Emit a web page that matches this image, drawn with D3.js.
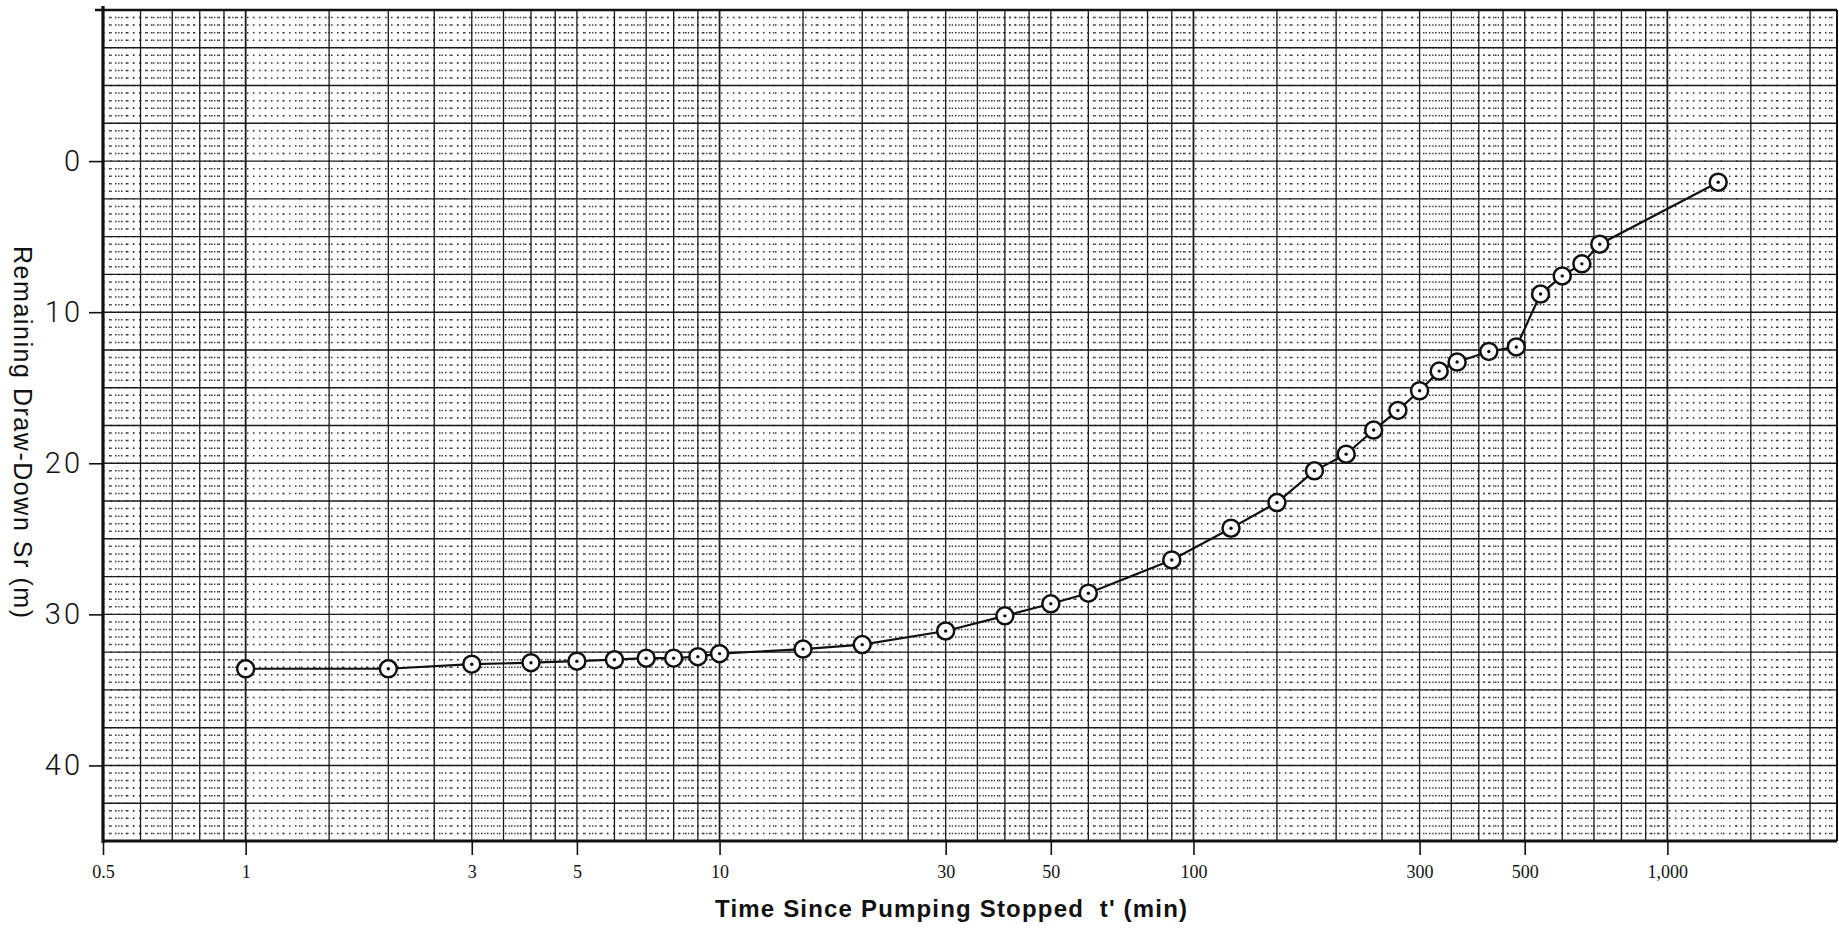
<!DOCTYPE html>
<html>
<head>
<meta charset="utf-8">
<script src="https://cdn.jsdelivr.net/npm/d3@7"></script>
<style>
  body { margin: 0; background: #fff; }
</style>
</head>
<body>
<div id="chart"></div>
<script>
// recovery test readings
let times = [1, 2, 3, 4, 5, 6, 7, 8, 9, 10, 15, 20, 30, 40, 50, 60, 90, 120, 150, 180,
  210, 240, 270, 300, 330, 360, 420, 480, 540, 600, 660, 720, 1280];
let drawDown = [33.6, 33.6, 33.3, 33.2, 33.1, 33.0, 32.9, 32.9, 32.8, 32.6, 32.3, 32.0, 31.1, 30.1, 29.3, 28.6, 26.4, 24.3, 22.6, 20.5,
  19.4, 17.8, 16.5, 15.2, 13.9, 13.3, 12.6, 12.3, 8.8, 7.6, 6.8, 5.5, 1.4];

let xTickValues = [0.5, 1, 3, 5, 10, 30, 50, 100, 300, 500, 1000];
let xTickLabels = ['0.5', '1', '3', '5', '10', '30', '50', '100', '300', '500', '1,000'];
let yTickValues = [0, 10, 20, 30, 40];

// rulings of the semi-log paper
let decades = [0.1, 1, 10, 100, 1000];
let ruledMultipliers = [1, 1.5, 2, 2.5, 3, 3.5, 4, 4.5, 5, 6, 7, 8, 9];

let width = 1839;
let height = 935;

let svg = d3.select('#chart').append('svg').attr('width', width).attr('height', height);

let x = d3.scaleLog().domain([0.5, 2280]).range([103, 1837]);
let y = d3.scaleLinear().domain([-10, 45]).range([10, 841]);

let inX = v => v >= x.domain()[0] && v <= x.domain()[1];
let rowStep = y(0.5) - y(0);

// fine dotted columns
let fineCols = [];
decades.forEach(d => {
  d3.range(1.1, 5, 0.1).forEach(m => fineCols.push(d * m));
  d3.range(5.2, 10, 0.2).forEach(m => fineCols.push(d * m));
});
fineCols = fineCols.filter(inX);

let fineRows = d3.range(-10, 45.01, 0.5).filter(v => Math.abs(v / 2.5 - Math.round(v / 2.5)) > 0.01);

let grid = svg.append('g');

grid.selectAll('.fineRow').data(fineRows).enter().append('line')
  .attr('x1', x.range()[0]).attr('x2', x.range()[1])
  .attr('y1', d => y(d)).attr('y2', d => y(d))
  .style('stroke', '#333').style('stroke-width', 1.5)
  .style('stroke-dasharray', '1.5 4.5');

grid.selectAll('.fineCol').data(fineCols).enter().append('line')
  .attr('x1', d => x(d)).attr('x2', d => x(d))
  .attr('y1', y.range()[0] - 0.75).attr('y2', y.range()[1])
  .style('stroke', '#333').style('stroke-width', 1.3)
  .style('stroke-dasharray', '1.5 ' + (rowStep - 1.5));

// solid rulings
let ruledCols = [];
decades.forEach(d => ruledMultipliers.forEach(m => ruledCols.push(d * m)));
ruledCols = ruledCols.filter(inX);

grid.selectAll('.ruledCol').data(ruledCols).enter().append('line')
  .attr('x1', d => x(d)).attr('x2', d => x(d))
  .attr('y1', y.range()[0]).attr('y2', y.range()[1])
  .style('stroke', '#1a1a1a')
  .style('stroke-width', d => decades.some(k => Math.abs(k - d) < 1e-9) ? 1.8 : 1.3);

let ruledRows = d3.range(-7.5, 45, 2.5);
grid.selectAll('.ruledRow').data(ruledRows).enter().append('line')
  .attr('x1', x.range()[0]).attr('x2', x.range()[1])
  .attr('y1', d => y(d)).attr('y2', d => y(d))
  .style('stroke', '#1a1a1a').style('stroke-width', 1.4);

// frame
svg.append('line').attr('x1', 95).attr('x2', x.range()[1]).attr('y1', y(-10)).attr('y2', y(-10))
  .style('stroke', '#111').style('stroke-width', 2.6);
svg.append('line').attr('x1', x.range()[0]).attr('x2', x.range()[0]).attr('y1', y(-10) - 4).attr('y2', y(45) + 2)
  .style('stroke', '#111').style('stroke-width', 3.2);
svg.append('line').attr('x1', x.range()[0]).attr('x2', x.range()[1]).attr('y1', y(45)).attr('y2', y(45))
  .style('stroke', '#111').style('stroke-width', 3.2);
svg.append('line').attr('x1', x.range()[1]).attr('x2', x.range()[1]).attr('y1', y(-10)).attr('y2', y(45))
  .style('stroke', '#111').style('stroke-width', 2);

// x axis
let xAxis = d3.axisBottom(x)
  .tickValues(xTickValues)
  .tickFormat((d, i) => xTickLabels[i])
  .tickSize(14)
  .tickPadding(10);

let gx = svg.append('g').attr('transform', 'translate(0,' + y(45) + ')').call(xAxis);
gx.select('.domain').remove();
gx.selectAll('.tick line').style('stroke', '#111').style('stroke-width', 1.6);
gx.selectAll('.tick text')
  .style('font-family', '"Liberation Serif", "DejaVu Serif", serif')
  .style('font-size', '18px').style('fill', '#111');

// y axis
let yAxis = d3.axisLeft(y)
  .tickValues(yTickValues)
  .tickSize(14)
  .tickPadding(6);

let gy = svg.append('g').attr('transform', 'translate(' + x.range()[0] + ',0)').call(yAxis);
gy.select('.domain').remove();
gy.selectAll('.tick line').style('stroke', '#111').style('stroke-width', 1.6);
gy.selectAll('.tick text')
  .style('font-family', 'Roboto, "Liberation Sans", sans-serif')
  .style('font-weight', 300)
  .style('font-size', '29px')
  .style('letter-spacing', '3px')
  .style('fill', '#111');

// axis titles
svg.append('text')
  .attr('x', 951).attr('y', 917)
  .attr('text-anchor', 'middle')
  .attr('textLength', 472).attr('lengthAdjust', 'spacing')
  .style('font-family', '"Liberation Sans", Arial, sans-serif')
  .style('font-weight', 'bold').style('font-size', '24px').style('fill', '#111')
  .text("Time Since Pumping Stopped\u00a0\u00a0t' (min)");

svg.append('text')
  .attr('transform', 'translate(14,432) rotate(90)')
  .attr('text-anchor', 'middle')
  .attr('textLength', 372).attr('lengthAdjust', 'spacing')
  .style('font-family', '"Liberation Sans", Arial, sans-serif')
  .style('font-size', '25px').style('fill', '#111')
  .text('Remaining Draw-Down Sr (m)');

// data line and hand drawn circles
let points = times.map((t, i) => ({t: t, s: drawDown[i]}));

let lineGenerator = d3.line().x(d => x(d.t)).y(d => y(d.s));

svg.append('path')
  .attr('d', lineGenerator(points))
  .style('fill', 'none').style('stroke', '#111').style('stroke-width', 2.2);

let marks = svg.append('g').selectAll('g').data(points).enter().append('g')
  .attr('transform', d => 'translate(' + x(d.t) + ',' + y(d.s) + ')');

marks.append('circle').attr('r', 8.5)
  .style('fill', '#fff').style('stroke', '#111').style('stroke-width', 2.5);
marks.append('circle').attr('r', 1.7).style('fill', '#111');
</script>
</body>
</html>
